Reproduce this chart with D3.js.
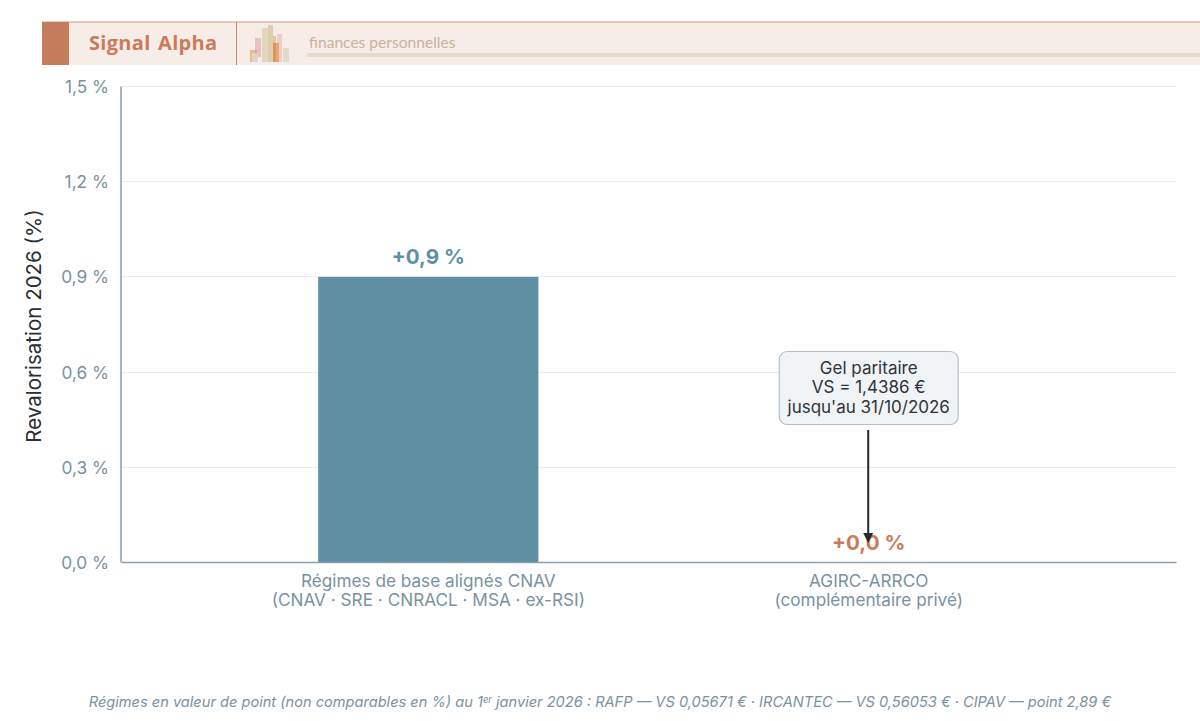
<!DOCTYPE html>
<html>
<head>
<meta charset="utf-8">
<script src="https://cdn.jsdelivr.net/npm/d3@7"></script>
<style>
html, body { margin: 0; padding: 0; background: #fff; }
svg { display: block; font-family: Inter, sans-serif; }
</style>
</head>
<body>
<div id="chart"></div>
<script>
var categories = ["base", "agirc"];
var categoryLines = [
  ["Régimes de base alignés CNAV", "(CNAV · SRE · CNRACL · MSA · ex-RSI)"],
  ["AGIRC-ARRCO", "(complémentaire privé)"]
];
var values = [0.9, 0.0];
var valueLabels = ["+0,9 %", "+0,0 %"];
var barColors = ["#5f8fa3", "#c97b5a"];
var yTicks = [0, 0.3, 0.6, 0.9, 1.2, 1.5];
var noteLines = ["Gel paritaire", "VS = 1,4386 €", "jusqu'au 31/10/2026"];

// small bar picture in the banner: [x, y, w, h, colour, opacity]
var logoBars = [
  [250, 50, 7, 12, "#e08a3c", 0.5],
  [255, 38, 6, 19, "#d98080", 0.4],
  [252, 53, 6, 9, "#dcd8c8", 0.85],
  [262, 28, 6, 34, "#dccdb4", 0.75],
  [268, 25, 5, 37, "#d8c4a4", 0.8],
  [273, 36, 3, 26, "#c9a060", 0.5],
  [273, 43, 6, 19, "#d9781f", 0.6],
  [277, 34, 5, 28, "#e3a89c", 0.45],
  [283, 48, 6, 14, "#dcd6c4", 0.8]
];

var width = 1200, height = 721;
var margin = {top: 86, right: 24, bottom: 159, left: 121};

var svg = d3.select("#chart").append("svg")
  .attr("width", width)
  .attr("height", height);

// banner
var banner = svg.append("g");
banner.append("rect").attr("x", 42).attr("y", 22).attr("width", 1158).attr("height", 43).attr("fill", "#f7ede8");
banner.append("line").attr("x1", 42).attr("x2", 1200).attr("y1", 22).attr("y2", 22).style("stroke", "#d9967c").style("stroke-width", "1px");
banner.append("rect").attr("x", 42).attr("y", 22).attr("width", 27).attr("height", 43).attr("fill", "#c47c5c");
banner.append("line").attr("x1", 236.5).attr("x2", 236.5).attr("y1", 22).attr("y2", 65).style("stroke", "#cf8468").style("stroke-width", "1px");
banner.append("text").text("Signal Alpha")
  .attr("x", 89).attr("y", 50)
  .attr("fill", "#c97b5a")
  .style("font-family", "'Open Sans', sans-serif")
  .style("font-size", "20px")
  .style("font-weight", 700)
  .style("letter-spacing", "0.3px")
  .style("word-spacing", "2px");
logoBars.forEach(function(d) {
  banner.append("rect")
    .attr("x", d[0]).attr("y", d[1]).attr("width", d[2]).attr("height", d[3])
    .attr("fill", d[4]).attr("opacity", d[5]);
});
banner.append("text").text("finances personnelles")
  .attr("x", 309).attr("y", 48)
  .attr("fill", "#c9b29b")
  .style("font-family", "Lato, sans-serif")
  .style("font-size", "15.6px");
banner.append("rect").attr("x", 307).attr("y", 53).attr("width", 893).attr("height", 4).attr("fill", "#e8dacb");

// scales
var x = d3.scaleBand()
  .domain(categories)
  .range([margin.left, width - margin.right])
  .paddingInner(0.5)
  .paddingOuter(0.4477);

var y = d3.scaleLinear()
  .domain([0, 1.5])
  .range([height - margin.bottom, margin.top]);

// grid
svg.append("g").selectAll("line")
  .data(yTicks.slice(1))
  .join("line")
  .attr("x1", margin.left)
  .attr("x2", width - margin.right)
  .attr("y1", function(d) { return Math.round(y(d)) + 0.5; })
  .attr("y2", function(d) { return Math.round(y(d)) + 0.5; })
  .style("stroke", "#e8ecef")
  .style("stroke-width", "1px");

// bars
svg.append("g").selectAll("rect")
  .data(values)
  .join("rect")
  .attr("x", function(d, i) { return x(categories[i]); })
  .attr("width", x.bandwidth())
  .attr("y", function(d) { return y(d) + 0.5; })
  .attr("height", function(d) { return Math.max(0, y(0) - y(d) - 0.5); })
  .attr("fill", function(d, i) { return barColors[i]; });

// axes
var yAxis = d3.axisLeft(y)
  .tickValues(yTicks)
  .tickSize(0)
  .tickPadding(11.5)
  .tickFormat(function(d) { return d.toFixed(1).replace(".", ",") + " %"; });

var yG = svg.append("g")
  .attr("transform", "translate(" + (margin.left - 0.5) + ",1)")
  .call(yAxis);
yG.select(".domain").attr("transform", "translate(0,-1)").style("stroke", "#8a9fae").style("stroke-width", "1.5px");
yG.selectAll("text")
  .attr("fill", "#7a929f")
  .style("font-family", "Inter, sans-serif")
  .style("font-size", "17.3px");

var xAxis = d3.axisBottom(x).tickSize(0).tickFormat("");
var xG = svg.append("g")
  .attr("transform", "translate(0," + y(0) + ")")
  .call(xAxis);
xG.select(".domain").style("stroke", "#8a9fae").style("stroke-width", "1.5px");

categories.forEach(function(c, i) {
  categoryLines[i].forEach(function(line, j) {
    svg.append("text")
      .text(line)
      .attr("x", x(c) + x.bandwidth() / 2)
      .attr("y", 586.5 + j * 19.5)
      .attr("text-anchor", "middle")
      .attr("fill", "#7a929f")
      .style("font-size", "17.2px");
  });
});

// y title
svg.append("text")
  .text("Revalorisation 2026 (%)")
  .attr("transform", "translate(41," + (y(0.75) + 2) + ") rotate(-90)")
  .attr("text-anchor", "middle")
  .attr("fill", "#2b2f33")
  .style("font-size", "20.5px");

// value labels
svg.append("g").selectAll("text")
  .data(values)
  .join("text")
  .text(function(d, i) { return valueLabels[i]; })
  .attr("x", function(d, i) { return x(categories[i]) + x.bandwidth() / 2; })
  .attr("y", function(d) { return y(d) - 12; })
  .attr("text-anchor", "middle")
  .attr("fill", function(d, i) { return barColors[i]; })
  .style("font-size", "20.6px")
  .style("font-weight", 700);

// note with arrow
var noteX = x("agirc") + x.bandwidth() / 2;

svg.append("rect")
  .attr("x", noteX - 89.5).attr("y", 351.5)
  .attr("width", 179).attr("height", 73)
  .attr("rx", 8)
  .attr("fill", "#f0f4f7")
  .style("stroke", "#b4bfc9")
  .style("stroke-width", "1.2px");

noteLines.forEach(function(line, i) {
  svg.append("text")
    .text(line)
    .attr("x", noteX)
    .attr("y", 373.5 + i * 19.5)
    .attr("text-anchor", "middle")
    .attr("fill", "#2f3337")
    .style("font-size", "17px");
});

svg.append("line")
  .attr("x1", noteX - 0.5).attr("x2", noteX - 0.5)
  .attr("y1", 430).attr("y2", 538)
  .style("stroke", "#26292c")
  .style("stroke-width", "2px");
svg.append("path")
  .attr("d", "M" + (noteX - 5.5) + ",533L" + (noteX + 4.5) + ",533L" + (noteX - 0.5) + ",543Z")
  .attr("fill", "#26292c");

// footnote
var foot = svg.append("text")
  .attr("x", 600).attr("y", 707)
  .attr("text-anchor", "middle")
  .attr("fill", "#7a929f")
  .style("font-size", "14.6px")
  .style("font-style", "italic");
foot.append("tspan").text("Régimes en valeur de point (non comparables en %) au 1");
foot.append("tspan").text("er").attr("dy", -4).style("font-size", "9.5px");
foot.append("tspan").text(" janvier 2026 : RAFP — VS 0,05671 € · IRCANTEC — VS 0,56053 € · CIPAV — point 2,89 €").attr("dy", 4);
</script>
</body>
</html>
